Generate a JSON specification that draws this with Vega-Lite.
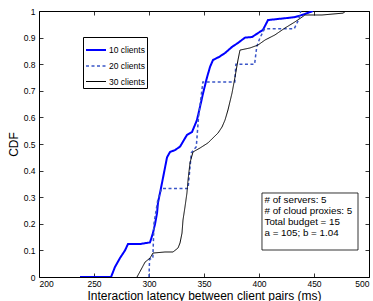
{
  "$schema": "https://vega.github.io/schema/vega-lite/v6.json",
  "width": 330,
  "height": 266,
  "autosize": {"type": "none"},
  "padding": {"left": 39, "top": 11, "right": 4, "bottom": 24},
  "background": "white",
  "config": {
    "font": "Liberation Sans",
    "view": {"stroke": "black", "strokeWidth": 1},
    "axis": {
      "grid": false,
      "domain": false,
      "tickColor": "black",
      "tickSize": -4,
      "tickWidth": 0.8,
      "labelColor": "black",
      "labelFontSize": 8.5,
      "labelFont": "Liberation Sans",
      "titleColor": "black",
      "titleFont": "Liberation Sans",
      "titleFontSize": 12,
      "titleFontWeight": "normal"
    },
    "legend": {
      "orient": "none",
      "legendX": 44,
      "legendY": 26,
      "strokeColor": "black",
      "fillColor": "white",
      "padding": 2,
      "symbolType": "stroke",
      "symbolSize": 400,
      "labelFontSize": 8.5,
      "labelFont": "Liberation Sans",
      "labelColor": "black",
      "labelOffset": 2,
      "rowPadding": -7
    }
  },
  "datasets": {
    "curves": [
      {"series": "10 clients", "i": 1, "latency": 237.3, "cdf": 0},
      {"series": "10 clients", "i": 2, "latency": 265.5, "cdf": 0},
      {"series": "10 clients", "i": 3, "latency": 269.1, "cdf": 0.038},
      {"series": "10 clients", "i": 4, "latency": 273.6, "cdf": 0.071},
      {"series": "10 clients", "i": 5, "latency": 278.2, "cdf": 0.1},
      {"series": "10 clients", "i": 6, "latency": 280.9, "cdf": 0.124},
      {"series": "10 clients", "i": 7, "latency": 291.8, "cdf": 0.124},
      {"series": "10 clients", "i": 8, "latency": 300.9, "cdf": 0.13},
      {"series": "10 clients", "i": 9, "latency": 303.6, "cdf": 0.165},
      {"series": "10 clients", "i": 10, "latency": 305.5, "cdf": 0.2},
      {"series": "10 clients", "i": 11, "latency": 307.3, "cdf": 0.24},
      {"series": "10 clients", "i": 12, "latency": 308.2, "cdf": 0.28},
      {"series": "10 clients", "i": 13, "latency": 310, "cdf": 0.316},
      {"series": "10 clients", "i": 14, "latency": 311.8, "cdf": 0.353},
      {"series": "10 clients", "i": 15, "latency": 314.5, "cdf": 0.41},
      {"series": "10 clients", "i": 16, "latency": 316.4, "cdf": 0.45},
      {"series": "10 clients", "i": 17, "latency": 319.1, "cdf": 0.47},
      {"series": "10 clients", "i": 18, "latency": 323.6, "cdf": 0.477},
      {"series": "10 clients", "i": 19, "latency": 328.2, "cdf": 0.49},
      {"series": "10 clients", "i": 20, "latency": 334.5, "cdf": 0.534},
      {"series": "10 clients", "i": 21, "latency": 339.1, "cdf": 0.545},
      {"series": "10 clients", "i": 22, "latency": 343.6, "cdf": 0.59},
      {"series": "10 clients", "i": 23, "latency": 346.4, "cdf": 0.64},
      {"series": "10 clients", "i": 24, "latency": 349.1, "cdf": 0.69},
      {"series": "10 clients", "i": 25, "latency": 352.7, "cdf": 0.75},
      {"series": "10 clients", "i": 26, "latency": 355.5, "cdf": 0.79},
      {"series": "10 clients", "i": 27, "latency": 358.2, "cdf": 0.816},
      {"series": "10 clients", "i": 28, "latency": 363.6, "cdf": 0.827},
      {"series": "10 clients", "i": 29, "latency": 369.1, "cdf": 0.842},
      {"series": "10 clients", "i": 30, "latency": 375.5, "cdf": 0.865},
      {"series": "10 clients", "i": 31, "latency": 380.9, "cdf": 0.88},
      {"series": "10 clients", "i": 32, "latency": 387.3, "cdf": 0.9},
      {"series": "10 clients", "i": 33, "latency": 393.6, "cdf": 0.902},
      {"series": "10 clients", "i": 34, "latency": 399.1, "cdf": 0.917},
      {"series": "10 clients", "i": 35, "latency": 403.6, "cdf": 0.929},
      {"series": "10 clients", "i": 36, "latency": 408.2, "cdf": 0.966},
      {"series": "10 clients", "i": 37, "latency": 426.4, "cdf": 0.974},
      {"series": "10 clients", "i": 38, "latency": 432.7, "cdf": 0.977},
      {"series": "10 clients", "i": 39, "latency": 439.1, "cdf": 0.985},
      {"series": "10 clients", "i": 40, "latency": 449.1, "cdf": 1.0},

      {"series": "20 clients", "i": 1, "latency": 300, "cdf": 0},
      {"series": "20 clients", "i": 2, "latency": 300.5, "cdf": 0.067},
      {"series": "20 clients", "i": 3, "latency": 303.5, "cdf": 0.07},
      {"series": "20 clients", "i": 4, "latency": 304.5, "cdf": 0.2},
      {"series": "20 clients", "i": 5, "latency": 308, "cdf": 0.29},
      {"series": "20 clients", "i": 6, "latency": 311.5, "cdf": 0.333},
      {"series": "20 clients", "i": 7, "latency": 335.5, "cdf": 0.333},
      {"series": "20 clients", "i": 8, "latency": 337, "cdf": 0.4},
      {"series": "20 clients", "i": 9, "latency": 338.5, "cdf": 0.467},
      {"series": "20 clients", "i": 10, "latency": 343, "cdf": 0.49},
      {"series": "20 clients", "i": 11, "latency": 345, "cdf": 0.6},
      {"series": "20 clients", "i": 12, "latency": 347, "cdf": 0.667},
      {"series": "20 clients", "i": 13, "latency": 349, "cdf": 0.733},
      {"series": "20 clients", "i": 14, "latency": 378, "cdf": 0.733},
      {"series": "20 clients", "i": 15, "latency": 379, "cdf": 0.8},
      {"series": "20 clients", "i": 16, "latency": 396, "cdf": 0.8},
      {"series": "20 clients", "i": 17, "latency": 398, "cdf": 0.867},
      {"series": "20 clients", "i": 18, "latency": 401, "cdf": 0.9},
      {"series": "20 clients", "i": 19, "latency": 405, "cdf": 0.933},
      {"series": "20 clients", "i": 20, "latency": 432, "cdf": 0.933},
      {"series": "20 clients", "i": 21, "latency": 436, "cdf": 0.967},
      {"series": "20 clients", "i": 22, "latency": 438, "cdf": 1.0},

      {"series": "30 clients", "i": 1, "latency": 289.1, "cdf": 0},
      {"series": "30 clients", "i": 2, "latency": 293.6, "cdf": 0.034},
      {"series": "30 clients", "i": 3, "latency": 296.4, "cdf": 0.056},
      {"series": "30 clients", "i": 4, "latency": 300.9, "cdf": 0.071},
      {"series": "30 clients", "i": 5, "latency": 303.6, "cdf": 0.09},
      {"series": "30 clients", "i": 6, "latency": 314.5, "cdf": 0.094},
      {"series": "30 clients", "i": 7, "latency": 321.8, "cdf": 0.094},
      {"series": "30 clients", "i": 8, "latency": 326.4, "cdf": 0.109},
      {"series": "30 clients", "i": 9, "latency": 328.2, "cdf": 0.128},
      {"series": "30 clients", "i": 10, "latency": 330, "cdf": 0.165},
      {"series": "30 clients", "i": 11, "latency": 330.9, "cdf": 0.214},
      {"series": "30 clients", "i": 12, "latency": 332.7, "cdf": 0.263},
      {"series": "30 clients", "i": 13, "latency": 334.5, "cdf": 0.316},
      {"series": "30 clients", "i": 14, "latency": 335.5, "cdf": 0.365},
      {"series": "30 clients", "i": 15, "latency": 337.3, "cdf": 0.43},
      {"series": "30 clients", "i": 16, "latency": 340, "cdf": 0.47},
      {"series": "30 clients", "i": 17, "latency": 346.4, "cdf": 0.485},
      {"series": "30 clients", "i": 18, "latency": 353.6, "cdf": 0.504},
      {"series": "30 clients", "i": 19, "latency": 358.2, "cdf": 0.523},
      {"series": "30 clients", "i": 20, "latency": 362.7, "cdf": 0.541},
      {"series": "30 clients", "i": 21, "latency": 366.4, "cdf": 0.564},
      {"series": "30 clients", "i": 22, "latency": 369.1, "cdf": 0.59},
      {"series": "30 clients", "i": 23, "latency": 371.8, "cdf": 0.628},
      {"series": "30 clients", "i": 24, "latency": 375.5, "cdf": 0.692},
      {"series": "30 clients", "i": 25, "latency": 378.2, "cdf": 0.752},
      {"series": "30 clients", "i": 26, "latency": 380.9, "cdf": 0.816},
      {"series": "30 clients", "i": 27, "latency": 382.7, "cdf": 0.853},
      {"series": "30 clients", "i": 28, "latency": 391.8, "cdf": 0.861},
      {"series": "30 clients", "i": 29, "latency": 399.1, "cdf": 0.872},
      {"series": "30 clients", "i": 30, "latency": 405.5, "cdf": 0.891},
      {"series": "30 clients", "i": 31, "latency": 414.5, "cdf": 0.91},
      {"series": "30 clients", "i": 32, "latency": 423.6, "cdf": 0.936},
      {"series": "30 clients", "i": 33, "latency": 432.7, "cdf": 0.959},
      {"series": "30 clients", "i": 34, "latency": 439.1, "cdf": 0.977},
      {"series": "30 clients", "i": 35, "latency": 441.8, "cdf": 0.985},
      {"series": "30 clients", "i": 36, "latency": 457.3, "cdf": 0.985},
      {"series": "30 clients", "i": 37, "latency": 476.4, "cdf": 0.992},
      {"series": "30 clients", "i": 38, "latency": 479.1, "cdf": 1.0}
    ],
    "notes": [
      {"label": "# of servers: 5", "latency": 405, "cdf": 0.2895},
      {"label": "# of cloud proxies: 5", "latency": 405, "cdf": 0.248},
      {"label": "Total budget = 15", "latency": 405, "cdf": 0.207},
      {"label": "a = 105; b = 1.04", "latency": 405, "cdf": 0.1655}
    ]
  },
  "resolve": {"axis": {"x": "independent", "y": "independent"}},
  "layer": [
    {
      "data": {"name": "curves"},
      "mark": {"type": "line", "clip": true},
      "encoding": {
        "x": {
          "field": "latency", "type": "quantitative",
          "scale": {"domain": [200, 500], "nice": false, "zero": false},
          "axis": {"orient": "bottom", "title": "Interaction latency between client pairs (ms)", "values": [200, 250, 300, 350, 400, 450, 500], "format": "d", "labelPadding": 6.5, "titlePadding": 2}
        },
        "y": {
          "field": "cdf", "type": "quantitative",
          "scale": {"domain": [0, 1], "nice": false},
          "axis": {"orient": "left", "title": "CDF", "values": [0, 0.1, 0.2, 0.3, 0.4, 0.5, 0.6, 0.7, 0.8, 0.9, 1], "format": "~g", "labelPadding": 8, "titlePadding": 3}
        },
        "order": {"field": "i", "type": "quantitative"},
        "color": {
          "field": "series", "type": "nominal",
          "scale": {"domain": ["10 clients", "20 clients", "30 clients"], "range": ["#0000ff", "#3a55c8", "#000000"]},
          "legend": {"title": null}
        },
        "strokeDash": {
          "field": "series", "type": "nominal",
          "scale": {"domain": ["10 clients", "20 clients", "30 clients"], "range": [[1, 0], [3, 2.5], [1, 0]]},
          "legend": {"title": null}
        },
        "strokeWidth": {
          "field": "series", "type": "nominal",
          "scale": {"domain": ["10 clients", "20 clients", "30 clients"], "range": [2, 1, 0.9]},
          "legend": {"title": null}
        }
      }
    },
    {
      "data": {"values": [{"x1": 402.7, "x2": 490, "y1": 0.1015, "y2": 0.3158}]},
      "mark": {"type": "rect", "fill": "white", "stroke": "black", "strokeWidth": 0.8},
      "encoding": {
        "x": {"field": "x1", "type": "quantitative", "axis": {"orient": "top", "title": null, "labels": false, "values": [200, 250, 300, 350, 400, 450, 500]}},
        "x2": {"field": "x2"},
        "y": {"field": "y1", "type": "quantitative", "axis": {"orient": "right", "title": null, "labels": false, "values": [0, 0.1, 0.2, 0.3, 0.4, 0.5, 0.6, 0.7, 0.8, 0.9, 1]}},
        "y2": {"field": "y2"}
      }
    },
    {
      "data": {"name": "notes"},
      "mark": {"type": "text", "align": "left", "baseline": "middle", "fontSize": 9.8, "font": "Liberation Sans", "color": "black"},
      "encoding": {
        "x": {"field": "latency", "type": "quantitative", "axis": null},
        "y": {"field": "cdf", "type": "quantitative", "axis": null},
        "text": {"field": "label"}
      }
    }
  ]
}
